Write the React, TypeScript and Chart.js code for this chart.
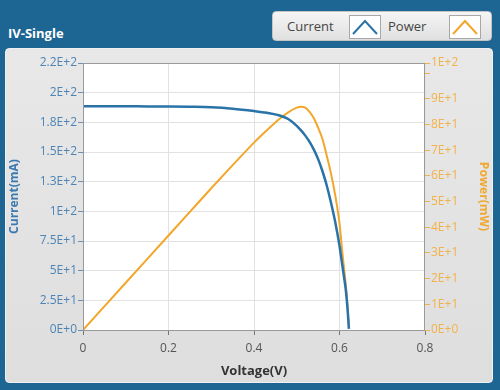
import React, { useEffect, useRef } from "react";
import { Chart, registerables } from "chart.js";

Chart.register(...registerables);

const voltage = [0, 0.05, 0.1, 0.15, 0.2, 0.25, 0.3, 0.35, 0.4, 0.43, 0.46, 0.48, 0.5, 0.51, 0.52, 0.53, 0.54, 0.55, 0.56, 0.57, 0.58, 0.59, 0.6, 0.605, 0.61, 0.615, 0.619, 0.622];
const currentMA = [188.6, 188.6, 188.5, 188.4, 188.3, 188.1, 187.7, 186.5, 184.5, 183, 180.8, 177.8, 172, 168.2, 163.8, 158.5, 152, 144, 134, 122, 107.5, 91, 71, 58.5, 46, 33, 17, 1];
const powerMW = [0, 9.2, 18.4, 27.6, 36.8, 46, 55.2, 64.2, 73, 77.8, 82.3, 84.8, 86.6, 87, 86.6, 85, 82.5, 78.8, 74.5, 68, 61, 52.5, 41.5, 33, 25, 17, 9, 1];

const xTicks = [0, 0.2, 0.4, 0.6, 0.8];
const xTickLabels = ["0", "0.2", "0.4", "0.6", "0.8"];
const leftTicks = [0, 25, 50, 75, 100, 125, 150, 175, 200, 225];
const leftTickLabels = ["0E+0", "2.5E+1", "5E+1", "7.5E+1", "1E+2", "1.3E+2", "1.5E+2", "1.8E+2", "2E+2", "2.2E+2"];
const rightTicks = [0, 10, 20, 30, 40, 50, 60, 70, 80, 90, 100, 104];
const rightTickLabels = ["0E+0", "1E+1", "2E+1", "3E+1", "4E+1", "5E+1", "6E+1", "7E+1", "8E+1", "9E+1", "", "1E+2"];

const BLUE = "#2a73a8";
const ORANGE = "#f2a62a";
const FONT = "'Open Sans', 'DejaVu Sans', sans-serif";

const plotBg = {
  id: "plotBg",
  beforeDraw(chart: any) {
    const { ctx, chartArea } = chart;
    ctx.save();
    ctx.fillStyle = "#ffffff";
    ctx.fillRect(chartArea.left, chartArea.top, chartArea.right - chartArea.left, chartArea.bottom - chartArea.top);
    ctx.restore();
  },
  afterDraw(chart: any) {
    const { ctx, chartArea } = chart;
    ctx.save();
    ctx.strokeStyle = "#9a9a9a";
    ctx.lineWidth = 1;
    ctx.strokeRect(chartArea.left + 0.5, chartArea.top + 0.5, chartArea.right - chartArea.left - 1, chartArea.bottom - chartArea.top);
    ctx.restore();
  },
};

export default function App() {
  const ref = useRef<HTMLCanvasElement | null>(null);

  useEffect(() => {
    if (!ref.current) return;
    const chart = new Chart(ref.current, {
      type: "line",
      data: {
        datasets: [
          {
            label: "Current",
            data: voltage.map((v, i) => ({ x: v, y: currentMA[i] })),
            borderColor: BLUE,
            borderWidth: 2.5,
            pointRadius: 0,
            cubicInterpolationMode: "monotone",
            yAxisID: "y",
          },
          {
            label: "Power",
            data: voltage.map((v, i) => ({ x: v, y: powerMW[i] })),
            borderColor: ORANGE,
            borderWidth: 2,
            pointRadius: 0,
            cubicInterpolationMode: "monotone",
            yAxisID: "y1",
          },
        ],
      },
      options: {
        responsive: false,
        animation: false,
        devicePixelRatio: 1,
        layout: { padding: { left: 5, right: 7, top: 63, bottom: 9 } },
        plugins: { legend: { display: false }, tooltip: { enabled: false } },
        scales: {
          x: {
            type: "linear",
            min: 0,
            max: 0.8,
            afterBuildTicks: (s: any) => {
              s.ticks = xTicks.map((v) => ({ value: v }));
            },
            afterFit: (s: any) => {
              s.height = 51;
            },
            ticks: {
              autoSkip: false,
              maxRotation: 0,
              padding: 6,
              color: "#555555",
              font: { family: FONT, size: 12 },
              callback: (_v: any, i: number) => xTickLabels[i],
            },
            grid: { color: "#e2e2e2", tickColor: "#777777", tickLength: 5 },
            border: { display: false },
            title: {
              display: true,
              text: "Voltage(V)",
              color: "#333333",
              font: { family: FONT, size: 13, weight: "bold" },
              padding: { top: 2, bottom: 2 },
            },
          },
          y: {
            type: "linear",
            position: "left",
            min: 0,
            max: 225,
            afterBuildTicks: (s: any) => {
              s.ticks = leftTicks.map((v) => ({ value: v }));
            },
            afterFit: (s: any) => {
              s.width = 78;
            },
            ticks: {
              autoSkip: false,
              padding: 1,
              color: "#4d84b6",
              font: { family: FONT, size: 12 },
              callback: (_v: any, i: number) => leftTickLabels[i],
            },
            grid: { color: "#e2e2e2", tickColor: "#6f8fae", tickLength: 5 },
            border: { display: false },
            title: {
              display: true,
              text: "Current(mA)",
              color: "#3b79b0",
              font: { family: FONT, size: 12, weight: "bold" },
              padding: { top: 2, bottom: 2 },
            },
          },
          y1: {
            type: "linear",
            position: "right",
            min: 0,
            max: 104,
            afterBuildTicks: (s: any) => {
              s.ticks = rightTicks.map((v) => ({ value: v }));
            },
            afterFit: (s: any) => {
              s.width = 68;
            },
            ticks: {
              autoSkip: false,
              padding: 1,
              color: "#f2b24a",
              font: { family: FONT, size: 12 },
              callback: (_v: any, i: number) => rightTickLabels[i],
            },
            grid: { drawOnChartArea: false, tickColor: "#f2b24a", tickLength: 5 },
            border: { display: false },
            title: {
              display: true,
              text: "Power(mW)",
              color: "#f0a830",
              font: { family: FONT, size: 12, weight: "bold" },
              padding: { top: 2, bottom: 2 },
            },
          },
        },
      },
      plugins: [plotBg],
    } as any);
    return () => chart.destroy();
  }, []);

  const swatch = (left: number, color: string) => (
    <div
      style={{
        position: "absolute",
        left,
        top: 3,
        width: 32,
        height: 24,
        background: "#ffffff",
        border: "1px solid #a8a8a8",
        boxSizing: "border-box",
      }}
    >
      <svg width="30" height="22" style={{ display: "block" }}>
        <polyline points="3,18 15,5 27,18" fill="none" stroke={color} strokeWidth="2" />
      </svg>
    </div>
  );

  return (
    <div
      style={{
        position: "fixed",
        left: 0,
        top: 0,
        width: 500,
        height: 390,
        background: "#1d6592",
        overflow: "hidden",
        fontFamily: FONT,
      }}
    >
      <div
        style={{
          position: "absolute",
          left: 8,
          top: 23,
          color: "#ffffff",
          fontWeight: "bold",
          fontSize: 13,
          lineHeight: "20px",
        }}
      >
        IV-Single
      </div>
      <div
        style={{
          position: "absolute",
          left: 272,
          top: 11,
          width: 220,
          height: 30,
          background: "linear-gradient(#f5f5f5, #e0e0e0)",
          border: "1px solid #c4c4c4",
          borderRadius: 4,
          boxSizing: "border-box",
        }}
      >
        <span style={{ position: "absolute", left: 14, top: 0, lineHeight: "28px", fontSize: 13, color: "#444444" }}>Current</span>
        {swatch(76, BLUE)}
        <span style={{ position: "absolute", left: 115, top: 0, lineHeight: "28px", fontSize: 13, color: "#444444" }}>Power</span>
        {swatch(176, ORANGE)}
      </div>
      <div
        style={{
          position: "absolute",
          left: 5,
          top: 48,
          width: 488,
          height: 335,
          background: "linear-gradient(#e8e8e8, #dedede)",
          borderRadius: 4,
          border: "1px solid #f0f0f0",
          boxSizing: "border-box",
        }}
      />
      <canvas ref={ref} width={500} height={390} style={{ position: "absolute", left: 0, top: 0, width: 500, height: 390 }} />
    </div>
  );
}
